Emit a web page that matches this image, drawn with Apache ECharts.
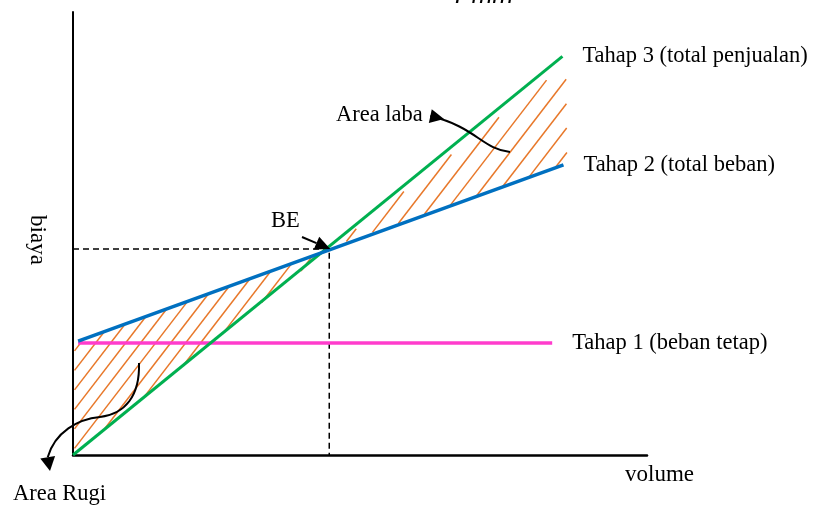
<!DOCTYPE html>
<html><head><meta charset="utf-8">
<script src="https://cdn.jsdelivr.net/npm/echarts@6/dist/echarts.min.js"></script>
<style>html,body{margin:0;padding:0;background:#fff}#c{width:813px;height:505px}</style>
</head><body><div id="c"></div><script>
// ---- data ----
const volumeRange = [0, 11.2];
const costRange = [0, 100];
const salesLine = [[0, 0], [9.55, 90]];            // Tahap 3
const totalCostLine = [[0.1, 25.7], [9.57, 65.5]]; // Tahap 2
const fixedCostLine = [[0.1, 25.3], [9.35, 25.3]]; // Tahap 1
const breakEven = [5, 46.5];
const seriesNames = ['Tahap 1 (beban tetap)', 'Tahap 2 (total beban)', 'Tahap 3 (total penjualan)'];
const axisNames = ['volume', 'biaya'];
const areaNames = ['Area Rugi', 'Area laba'];
const beLabel = 'BE';
const topFragment = 'Pmm';

// ---- derived regions ----
const lossRegion = [[0, totalCostLine[0][1]], breakEven, salesLine[0]];
const profitRegion = [breakEven, [salesLine[1][0] + 0.1, salesLine[1][1] - 1.5], [totalCostLine[1][0] + 0.1, totalCostLine[1][1]]];

const FONT = 'Liberation Serif';
const HATCH_COLOR = '#e8782a';
const HATCH_SLOPE = 1.3;
const hatchRegions = [{ poly: lossRegion, step: 15 }, { poly: profitRegion, step: 19 }];

const chart = echarts.init(document.getElementById('c'), null, { renderer: 'canvas' });

function arrowHead(tip, dir, len, hw) {
  const L = Math.hypot(dir[0], dir[1]);
  const ux = dir[0] / L, uy = dir[1] / L;
  const bx = tip[0] - ux * len, by = tip[1] - uy * len;
  return [[tip[0], tip[1]], [bx - uy * hw, by + ux * hw], [bx + uy * hw, by - ux * hw]];
}

const lineTxt = { fontFamily: FONT, fontSize: 22.5, color: '#000' };

const option = {
  animation: false,
  backgroundColor: '#fff',
  grid: { left: 73, top: 12, width: 574, height: 443, containLabel: false },
  xAxis: {
    type: 'value', min: volumeRange[0], max: volumeRange[1],
    axisLine: { show: true, lineStyle: { color: '#000', width: 2.5 } },
    axisTick: { show: false }, axisLabel: { show: false }, splitLine: { show: false }
  },
  yAxis: {
    type: 'value', min: costRange[0], max: costRange[1],
    axisLine: { show: true, lineStyle: { color: '#000', width: 2 } },
    axisTick: { show: false }, axisLabel: { show: false }, splitLine: { show: false }
  },
  series: [
    {
      type: 'custom', coordinateSystem: 'cartesian2d', silent: true, z: 1, clip: false,
      data: [[0, 0], [1, 0]],
      renderItem(params, api) {
        const reg = hatchRegions[params.dataIndex];
        const pts = reg.poly.map(p => api.coord(p));
        const s = HATCH_SLOPE, h = reg.step;
        const bs = pts.map(p => p[1] + s * p[0]);
        const bmin = Math.min(...bs), bmax = Math.max(...bs);
        const children = [];
        for (let c = bmin + h * s * 0.6; c < bmax; c += h * s) {
          const hits = [];
          for (let i = 0; i < pts.length; i++) {
            const P = pts[i], Q = pts[(i + 1) % pts.length];
            const f1 = P[1] + s * P[0] - c, f2 = Q[1] + s * Q[0] - c;
            if ((f1 <= 0 && f2 > 0) || (f1 > 0 && f2 <= 0)) {
              const t = f1 / (f1 - f2);
              hits.push([P[0] + t * (Q[0] - P[0]), P[1] + t * (Q[1] - P[1])]);
            }
          }
          if (hits.length < 2) continue;
          hits.sort((u, v) => u[0] - v[0]);
          const A = hits[0], B = hits[hits.length - 1];
          const dx = B[0] - A[0], dy = B[1] - A[1], L = Math.hypot(dx, dy);
          if (L < 6) continue;
          const sh = 2.5 / L;
          children.push({ type: 'line', shape: { x1: A[0] + dx * sh, y1: A[1] + dy * sh, x2: B[0] - dx * sh, y2: B[1] - dy * sh },
            style: { stroke: HATCH_COLOR, lineWidth: 1.5 } });
        }
        return { type: 'group', children };
      }
    },
    {
      type: 'line', name: 'BE', z: 2, symbol: 'none', silent: true,
      data: [[volumeRange[0], breakEven[1]], breakEven, [breakEven[0], costRange[0]]],
      lineStyle: { color: '#000', width: 1.5, type: [6, 4] }
    },
    {
      type: 'line', name: seriesNames[0], z: 3, symbol: 'none', data: fixedCostLine,
      lineStyle: { color: '#ff3ccc', width: 3.5 },
      endLabel: Object.assign({ show: true, formatter: '{a}', distance: 20 }, lineTxt)
    },
    {
      type: 'line', name: seriesNames[2], z: 4, symbol: 'none', data: salesLine,
      lineStyle: { color: '#00b050', width: 3 },
      endLabel: Object.assign({ show: true, formatter: '{a}', distance: 20 }, lineTxt)
    },
    {
      type: 'line', name: seriesNames[1], z: 5, symbol: 'none', data: totalCostLine,
      lineStyle: { color: '#0070c0', width: 3.5 },
      endLabel: Object.assign({ show: true, formatter: '{a}', distance: 20 }, lineTxt)
    }
  ],
  graphic: []
};
chart.setOption(option);

// annotations
const font = (sz, fam) => sz + 'px "' + (fam || FONT) + '"';
const tf = (txt, x, y, extra, st) => Object.assign({
  type: 'text', z: 10, x: x, y: y,
  style: Object.assign({ text: txt, x: 0, y: 0, font: font(22.5), fill: '#000', textVerticalAlign: 'middle', textAlign: 'left' }, st || {})
}, extra || {});
const beP = chart.convertToPixel({ gridIndex: 0 }, breakEven);
const beTip = [beP[0] + 1, beP[1]];
const beHead = arrowHead(beTip, [28, 12], 15, 7);
const labaHead = arrowHead([444, 119], [14, 3], 14, 7);
const rugiHead = arrowHead([50, 471], [2, 12], 14, 7.5);
const mid = h => [(h[1][0] + h[2][0]) / 2, (h[1][1] + h[2][1]) / 2];
const beBase = mid(beHead), labaBase = mid(labaHead), rugiBase = mid(rugiHead);

chart.setOption({
  graphic: [
    tf(axisNames[0], 625, 475, null, { font: font(23) }),
    tf(axisNames[1], 37, 240, { rotation: -Math.PI / 2 }, { font: font(23), textAlign: 'center' }),
    tf(areaNames[1], 336, 115),
    tf(areaNames[0], 13, 494),
    tf(beLabel, 271, 221),
    tf(topFragment, 455, 9, null, { font: 'italic 25px "Liberation Sans"', textVerticalAlign: 'bottom' }),
    // BE arrow
    { type: 'line', z: 10, shape: { x1: 302, y1: 237, x2: beBase[0], y2: beBase[1] }, style: { stroke: '#000', lineWidth: 2 } },
    { type: 'polygon', z: 10, shape: { points: beHead }, style: { fill: '#000' } },
    // Area laba arrow
    { type: 'bezierCurve', z: 10, shape: { x1: 510, y1: 152, cpx1: 482, cpy1: 149, cpx2: 476, cpy2: 127, x2: labaBase[0], y2: labaBase[1] }, style: { stroke: '#000', lineWidth: 2, fill: null } },
    { type: 'polygon', z: 10, shape: { points: labaHead }, style: { fill: '#000' } },
    // Area Rugi arrow
    { type: 'bezierCurve', z: 10, shape: { x1: 139, y1: 363, cpx1: 140, cpy1: 396, cpx2: 125, cpy2: 414, x2: 100, y2: 417 }, style: { stroke: '#000', lineWidth: 2, fill: null } },
    { type: 'bezierCurve', z: 10, shape: { x1: 100, y1: 417, cpx1: 78, cpy1: 419, cpx2: 55, cpy2: 432, x2: rugiBase[0], y2: rugiBase[1] }, style: { stroke: '#000', lineWidth: 2, fill: null } },
    { type: 'polygon', z: 10, shape: { points: rugiHead }, style: { fill: '#000' } }
  ]
});
</script></body></html>
